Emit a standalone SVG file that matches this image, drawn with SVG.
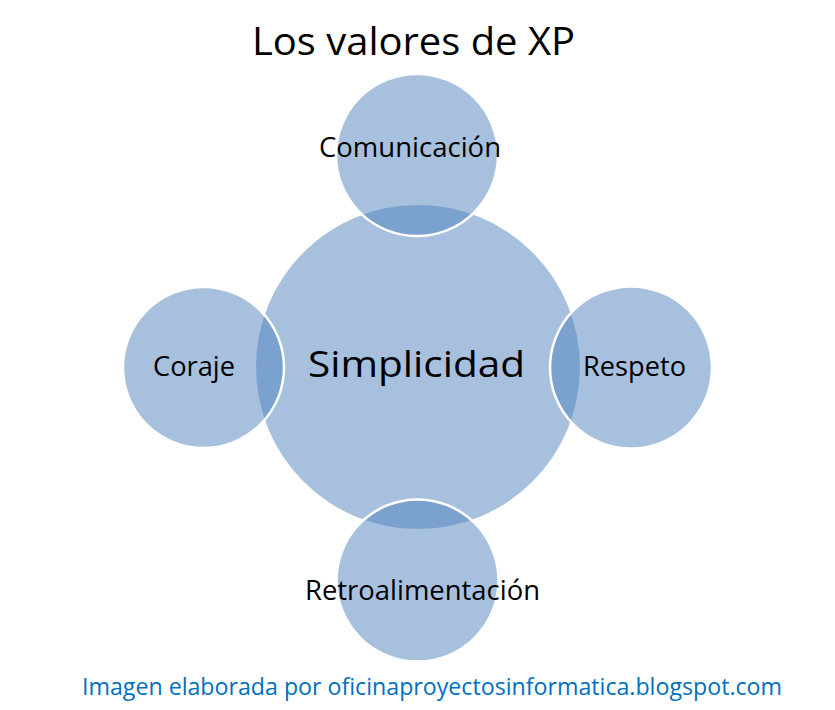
<svg xmlns="http://www.w3.org/2000/svg" width="835" height="710" viewBox="0 0 835 710">
<style>
.bg{fill:#ffffff}
.core{fill:#4F81BD;fill-opacity:0.5}
.sat{fill:#4F81BD;fill-opacity:0.5;stroke:#ffffff;stroke-width:2.5}
.lbl{font-family:"Open Sans","Noto Sans",sans-serif;fill:#000000}
.foot{font-family:"Open Sans","Noto Sans",sans-serif;fill:#0070C0}
</style>
<rect class="bg" x="0" y="0" width="835" height="710"/>
<text id="title" class="lbl" x="252" y="55" font-size="38" textLength="323" lengthAdjust="spacingAndGlyphs">Los valores de XP</text>
<g id="simplicidad">
<circle class="core" cx="418" cy="367" r="162"/>
<text class="lbl" x="308" y="377" font-size="37" textLength="217" lengthAdjust="spacingAndGlyphs">Simplicidad</text>
</g>
<g id="comunicacion">
<circle class="sat" cx="417" cy="155" r="81"/>
<text class="lbl" x="319" y="157" font-size="28" textLength="182" lengthAdjust="spacingAndGlyphs">Comunicación</text>
</g>
<g id="coraje">
<circle class="sat" cx="203.5" cy="367.5" r="80.5"/>
<text class="lbl" x="153" y="376" font-size="28" textLength="82" lengthAdjust="spacingAndGlyphs">Coraje</text>
</g>
<g id="respeto">
<circle class="sat" cx="631" cy="367.5" r="81"/>
<text class="lbl" x="583" y="376" font-size="28" textLength="103" lengthAdjust="spacingAndGlyphs">Respeto</text>
</g>
<g id="retroalimentacion">
<circle class="sat" cx="417.5" cy="580.5" r="81"/>
<text class="lbl" x="305" y="600" font-size="28" textLength="235" lengthAdjust="spacingAndGlyphs">Retroalimentación</text>
</g>
<g id="connectors"></g>
<text id="footer" class="foot" x="82" y="695" font-size="24" textLength="700" lengthAdjust="spacingAndGlyphs">Imagen elaborada por oficinaproyectosinformatica.blogspot.com</text>
</svg>
